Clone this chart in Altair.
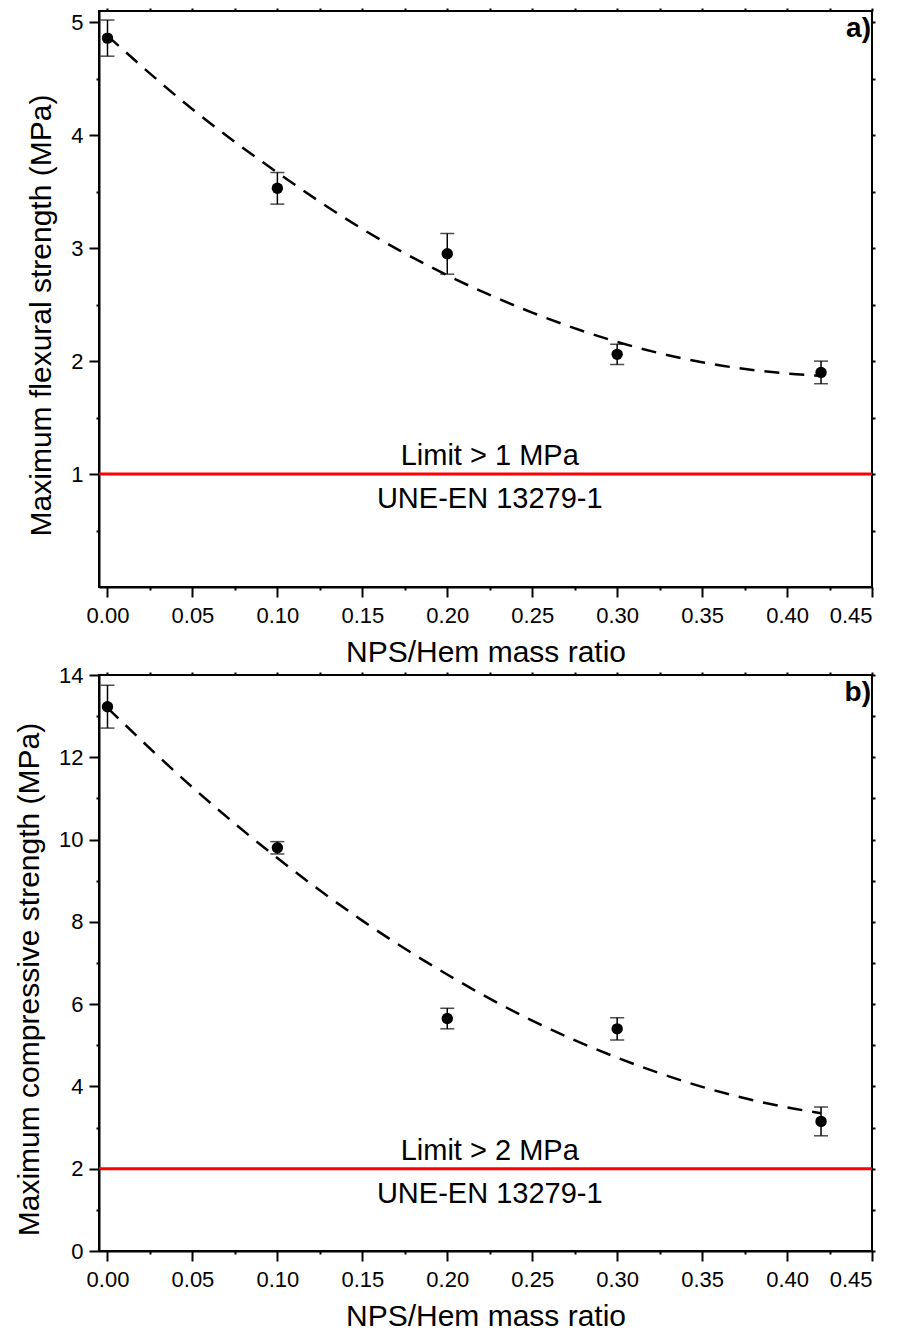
import altair as alt
import pandas as pd

# ---- data ----
x_ratio = [0.00, 0.10, 0.20, 0.30, 0.42]
flex_mean = [4.86, 3.53, 2.95, 2.06, 1.90]
flex_err = [0.16, 0.14, 0.18, 0.09, 0.10]
comp_mean = [13.23, 9.80, 5.65, 5.40, 3.15]
comp_err = [0.52, 0.15, 0.25, 0.27, 0.35]

fit_x = [0.00, 0.05, 0.10, 0.15, 0.20, 0.25, 0.30, 0.35, 0.40, 0.42]
flex_fit = [4.88, 4.23, 3.67, 3.17, 2.76, 2.43, 2.17, 1.99, 1.89, 1.87]
comp_fit = [13.20, 11.27, 9.55, 8.03, 6.72, 5.60, 4.70, 3.99, 3.49, 3.35]

x_ticks = [0.0, 0.025, 0.05, 0.075, 0.10, 0.125, 0.15, 0.175, 0.20, 0.225,
           0.25, 0.275, 0.30, 0.325, 0.35, 0.375, 0.40, 0.425, 0.45]
flex_ticks = [0.5, 1, 1.5, 2, 2.5, 3, 3.5, 4, 4.5, 5]
comp_ticks = [0, 1, 2, 3, 4, 5, 6, 7, 8, 9, 10, 11, 12, 13, 14]

FONT = "Liberation Sans"
W, H = 773, 576
xscale = alt.Scale(domain=[-0.005, 0.45], nice=False, zero=False)

x_major_test = "abs(datum.value*20 - round(datum.value*20)) < 0.000001"


def panel(mean, err, fit, ydom, yticks, y_major_test, limit, limit_txt, tag, ytitle):
    yscale = alt.Scale(domain=ydom, nice=False, zero=False)
    pts = pd.DataFrame({
        "x": x_ratio,
        "y": mean,
        "lo": [m - e for m, e in zip(mean, err)],
        "hi": [m + e for m, e in zip(mean, err)],
    })
    fitdf = pd.DataFrame({"x": fit_x, "y": fit})
    limdf = pd.DataFrame({"x": [0.225], "y": [limit]})
    tagdf = pd.DataFrame({"x": [0.45], "y": [ydom[1]], "t": [tag]})

    xax = alt.Axis(
        values=x_ticks,
        labelExpr=f"({x_major_test}) ? format(datum.value, '.2f') : ''",
        tickSize={"condition": {"test": x_major_test, "value": 10}, "value": 3},
        title="NPS/Hem mass ratio",
        titlePadding=11,
        labelPadding=8,
        labelOverlap=False,
    )
    yax = alt.Axis(
        values=yticks,
        labelExpr=f"({y_major_test}) ? format(datum.value, 'd') : ''",
        tickSize={"condition": {"test": y_major_test, "value": 10}, "value": 3},
        title=ytitle,
        titlePadding=14,
        titleY=H / 2 + 16,
        labelPadding=6,
        labelOverlap=False,
    )

    base_pts = alt.Chart(pts).mark_circle(size=130, color="black", opacity=1).encode(
        x=alt.X("x:Q", scale=xscale, axis=xax),
        y=alt.Y("y:Q", scale=yscale, axis=yax),
    )
    frame = alt.Chart(pts).mark_point(opacity=0).encode(
        x=alt.X("x:Q", scale=xscale,
                axis=alt.Axis(orient="top", values=x_ticks, labels=False, tickSize=3,
                              domain=False, title=None)),
        y=alt.Y("y:Q", scale=yscale,
                axis=alt.Axis(orient="right", values=yticks, labels=False, tickSize=3,
                              domain=False, title=None)),
    )
    errb = alt.Chart(pts).mark_errorbar(
        ticks={"size": 14}, thickness=1.5, color="black"
    ).encode(
        x=alt.X("x:Q", scale=xscale, axis=None),
        y=alt.Y("lo:Q", scale=yscale, axis=None),
        y2="hi:Q",
    )
    fitline = alt.Chart(fitdf).mark_line(
        color="black", strokeWidth=2.5, strokeDash=[15, 10], interpolate="monotone"
    ).encode(
        x=alt.X("x:Q", scale=xscale, axis=None),
        y=alt.Y("y:Q", scale=yscale, axis=None),
    )
    rule = alt.Chart(limdf).mark_rule(color="#ff0000", strokeWidth=3).encode(
        y=alt.Y("y:Q", scale=yscale, axis=None),
    )
    t_above = alt.Chart(limdf).mark_text(
        text=limit_txt, font=FONT, fontSize=29, color="black",
        align="center", baseline="alphabetic", dy=-9,
    ).encode(
        x=alt.X("x:Q", scale=xscale, axis=None),
        y=alt.Y("y:Q", scale=yscale, axis=None),
    )
    t_below = alt.Chart(limdf).mark_text(
        text="UNE-EN 13279-1", font=FONT, fontSize=29, color="black",
        align="center", baseline="alphabetic", dy=34,
    ).encode(
        x=alt.X("x:Q", scale=xscale, axis=None),
        y=alt.Y("y:Q", scale=yscale, axis=None),
    )
    tagt = alt.Chart(tagdf).mark_text(
        font=FONT, fontSize=28, fontWeight="bold", color="black",
        align="right", baseline="alphabetic", dx=-1, dy=26,
    ).encode(
        x=alt.X("x:Q", scale=xscale, axis=None),
        y=alt.Y("y:Q", scale=yscale, axis=None),
        text="t:N",
    )
    return alt.layer(
        rule, fitline, errb, base_pts, frame, t_above, t_below, tagt
    ).resolve_axis(x="independent", y="independent").properties(width=W, height=H)


top = panel(flex_mean, flex_err, flex_fit, [0, 5.1], flex_ticks,
            "abs(datum.value - round(datum.value)) < 0.000001",
            1.0, "Limit > 1 MPa", "a)", "Maximum flexural strength (MPa)")
bottom = panel(comp_mean, comp_err, comp_fit, [0, 14], comp_ticks,
               "abs(datum.value/2 - round(datum.value/2)) < 0.000001",
               2.0, "Limit > 2 MPa", "b)", "Maximum compressive strength (MPa)")

chart = alt.vconcat(top, bottom, spacing=88, bounds="flush").properties(
    padding={"left": 13, "top": 6, "right": 5, "bottom": 5}
).configure_view(
    stroke="black", strokeWidth=2
).configure_axis(
    labelFont=FONT, labelFontSize=22, labelColor="black",
    titleFont=FONT, titleFontSize=30, titleColor="black", titleFontWeight="normal",
    tickColor="black", tickWidth=2, domainColor="black", domainWidth=2, grid=False,
)

chart.save("out.html", embed_options={"renderer": "svg", "actions": False})
